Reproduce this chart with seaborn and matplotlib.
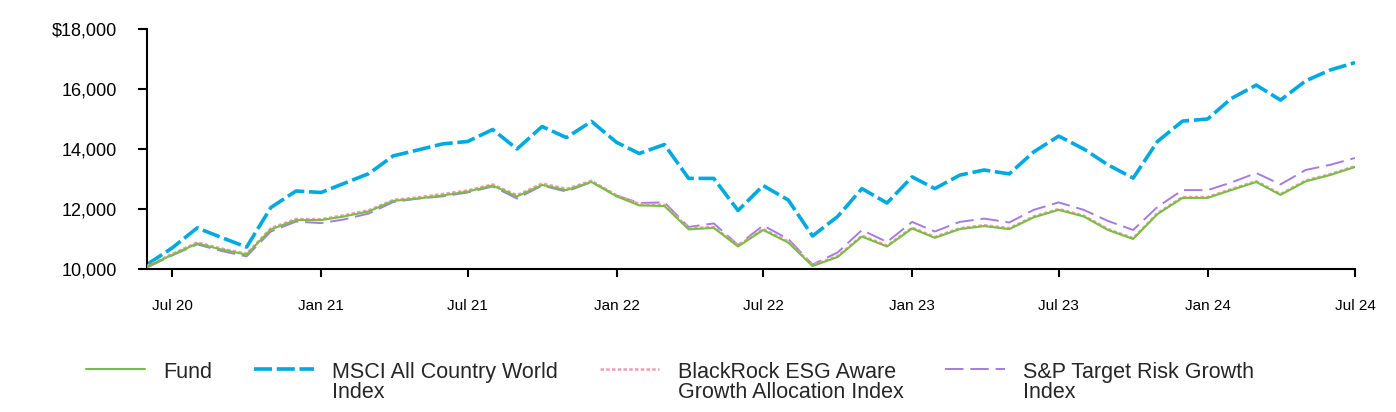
import matplotlib
matplotlib.use("Agg")
import matplotlib.pyplot as plt
import matplotlib.dates as mdates
import matplotlib.ticker as mticker
import numpy as np
import pandas as pd
import seaborn as sns

# ---- data ----
dates = pd.date_range("2020-06-30", periods=50, freq="ME")

fund = [10080, 10470, 10850, 10650, 10480, 11320, 11630, 11630, 11750, 11920,
        12270, 12350, 12450, 12580, 12780, 12420, 12800, 12630, 12900, 12420,
        12120, 12100, 11320, 11370, 10750, 11300, 10880, 10100, 10400, 11080,
        10750, 11350, 11040, 11330, 11430, 11330, 11720, 11970, 11750, 11300,
        11000, 11830, 12370, 12370, 12630, 12900, 12470, 12920, 13130, 13400]

msci = [10150, 10700, 11370, 11050, 10730, 12050, 12600, 12550, 12850, 13180,
        13770, 13970, 14170, 14250, 14650, 14000, 14750, 14380, 14920, 14220,
        13850, 14150, 13020, 13020, 11950, 12780, 12300, 11100, 11750, 12680,
        12200, 13070, 12680, 13130, 13300, 13170, 13900, 14430, 14000, 13470,
        13030, 14250, 14930, 15000, 15680, 16130, 15630, 16270, 16630, 16880]

blackrock = [10100, 10500, 10890, 10680, 10510, 11360, 11670, 11660, 11790, 11960,
             12300, 12390, 12500, 12620, 12820, 12460, 12850, 12670, 12940, 12460,
             12170, 12140, 11360, 11400, 10790, 11330, 10920, 10130, 10430, 11110,
             10780, 11380, 11070, 11360, 11460, 11360, 11750, 12000, 11780, 11330,
             11030, 11860, 12400, 12400, 12660, 12930, 12500, 12950, 13160, 13430]

sp = [10050, 10450, 10820, 10600, 10420, 11250, 11580, 11530, 11650, 11850,
      12230, 12350, 12420, 12550, 12750, 12350, 12780, 12580, 12900, 12450,
      12200, 12220, 11400, 11520, 10800, 11450, 11000, 10150, 10550, 11300,
      10900, 11570, 11250, 11570, 11680, 11550, 11970, 12220, 11970, 11600,
      11300, 12070, 12630, 12630, 12880, 13200, 12820, 13300, 13470, 13700]

labels = ["Fund", "MSCI All Country World\nIndex",
          "BlackRock ESG Aware\nGrowth Allocation Index",
          "S&P Target Risk Growth\nIndex"]

y_ticks = [10000, 12000, 14000, 16000, 18000]

# ---- style ----
sns.set_style("ticks")
plt.rcParams["font.family"] = ["Liberation Sans", "DejaVu Sans"]

fig = plt.figure(figsize=(13.96, 4.12), dpi=100)
ax = fig.add_axes([147 / 1396, 1 - 269 / 412, (1355 - 147) / 1396, (269 - 29) / 412])

series = [
    (fund, labels[0], "#78BE43", 1.5, "-"),
    (msci, labels[1], "#00A9E0", 2.6, (0, (5, 1.3))),
    (blackrock, labels[2], "#F59AB0", 1.8, (0, (1.4, 0.9))),
    (sp, labels[3], "#A57CDE", 1.4, (0, (9.5, 3.5))),
]

order = [1, 3, 2, 0]
zorders = {1: 2, 3: 3, 2: 4, 0: 5}
handles = {}
for idx in order:
    vals, lab, col, lw, ls = series[idx]
    sns.lineplot(x=dates, y=vals, ax=ax, color=col, linewidth=lw,
                 linestyle=ls, label=lab, zorder=zorders[idx])
    handles[idx] = ax.lines[-1]

if ax.get_legend() is not None:
    ax.get_legend().remove()

ax.set_xlim(dates[0], dates[-1])
ax.set_ylim(10000, 18000)
ax.set_yticks(y_ticks)
ax.yaxis.set_major_formatter(mticker.FuncFormatter(
    lambda v, p: ("$" if v == 18000 else "") + f"{int(v):,}"))

tick_dates = [d for d in dates if d.month in (1, 7)]
ax.set_xticks(tick_dates)
ax.xaxis.set_major_formatter(mdates.DateFormatter("%b %y"))

ax.set_xlabel("")
ax.set_ylabel("")
sns.despine(ax=ax)
for s in ("left", "bottom"):
    ax.spines[s].set_linewidth(1.5)
    ax.spines[s].set_color("black")
ax.tick_params(axis="y", length=6.5, width=1.5, pad=15, labelsize=13, colors="black")
ax.tick_params(axis="x", length=5.5, width=1.5, pad=16, labelsize=11, colors="black")

leg = fig.legend([handles[i] for i in range(4)], labels,
                 loc="upper left", bbox_to_anchor=(75 / 1396, 1 - 351 / 412),
                 ncol=4, frameon=False, fontsize=15.5, borderpad=0,
                 handlelength=2.75, handletextpad=0.85, columnspacing=1.96)
for t in leg.get_texts():
    t.set_linespacing(0.95)
# align handles with the first text line and columns at their top
try:
    leg._legend_handle_box.align = "top"
    for col in leg._legend_handle_box.get_children():
        col.align = "left"
        for item in col.get_children():
            item.align = "top"
except Exception:
    pass

fig.savefig("out.png", dpi=100)
